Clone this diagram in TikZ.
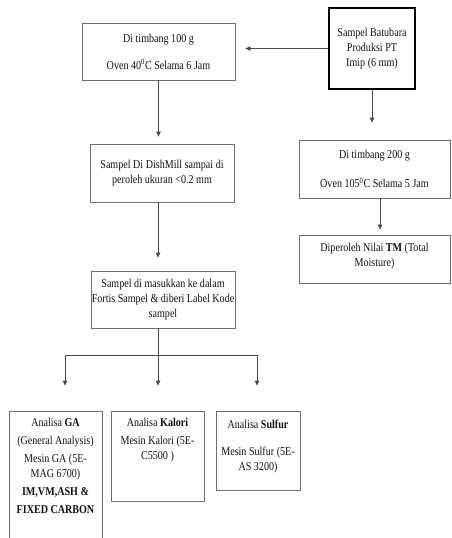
\documentclass[tikz,border=0pt]{standalone}
\usepackage{fontspec}
\setmainfont[FakeStretch=0.84]{Liberation Serif}
\usetikzlibrary{arrows.meta}
\definecolor{boxc}{HTML}{6E6E6E}
\definecolor{linec}{HTML}{4A4A4A}
\definecolor{txt}{HTML}{111111}
\begin{document}
\begin{tikzpicture}[x=1pt,y=-1pt,
  every node/.style={font=\fontsize{12}{15}\selectfont, text=txt},
  box/.style={draw=boxc, line width=0.8pt, rectangle, inner sep=0pt, align=center},
  arr/.style={draw=linec, line width=0.8pt, -{Triangle[width=4.5pt,length=5pt]}},
  conn/.style={draw=linec, line width=0.8pt}]
\useasboundingbox (0,0) rectangle (451,538);

\node[box, draw=black, line width=1.8pt, minimum width=86pt, minimum height=81pt] (src) at (372,48.5)
  {Sampel Batubara\\Produksi PT\\Imip (6 mm)};
\node[box, minimum width=153pt, minimum height=57pt] (A) at (158.5,51.5)
  {Di timbang 100 g\\[12pt]Oven 40\textsuperscript{0}C Selama 6 Jam};
\node[box, minimum width=144pt, minimum height=58pt] (B) at (162,173)
  {Sampel Di DishMill sampai di\\peroleh ukuran <0.2 mm};
\node[box, minimum width=144pt, minimum height=57pt] (C) at (163,299.5)
  {Sampel di masukkan ke dalam\\Fortis Sampel \& diberi Label Kode\\sampel};
\node[box, minimum width=151pt, minimum height=58pt] (R1) at (374.5,169)
  {Di timbang 200 g\\[14pt]Oven 105\textsuperscript{0}C Selama 5 Jam};
\node[box, minimum width=151pt, minimum height=48pt] (TM) at (374.5,259)
  {Diperoleh Nilai \textbf{TM} (Total\\Moisture)\\[-7pt]};

\node[box] (GA) at (55.5,478)
  {\parbox[c][134pt][t]{93pt}{\centering\vspace*{7pt}Analisa \textbf{GA}\\[3pt](General Analysis)\\[3pt]Mesin GA (5E-\\MAG 6700)\\[3pt]\textbf{IM,VM,ASH \&}\\[3pt]\textbf{FIXED CARBON}}};
\node[box] (Kal) at (157.5,456)
  {\parbox[c][90pt][t]{93pt}{\centering\vspace*{7pt}Analisa \textbf{Kalori}\\[3pt]Mesin Kalori (5E-\\C5500 )}};
\node[box] (Sul) at (258,450.5)
  {\parbox[c][79pt][t]{84pt}{\centering\vspace*{9pt}Analisa \textbf{Sulfur}\\[12pt]Mesin Sulfur (5E-\\AS 3200)}};

\draw[arr, shorten >=10pt] (src.west) -- (src.west -| A.east);
\draw[arr, shorten >=7pt] (A.south) -- (A.south |- B.north);
\draw[arr, shorten >=17pt] (src.south) -- (src.south |- R1.north);
\draw[arr, shorten >=5pt] ([xshift=5.5pt]R1.south) -- ([xshift=5.5pt]R1.south |- TM.north);
\draw[arr, shorten >=13pt] ([xshift=-4pt]B.south) -- ([xshift=-4pt]B.south |- C.north);
\coordinate (br) at (158,355);
\draw[conn] ([xshift=-5pt]C.south) -- (br);
\draw[arr, shorten >=25pt] (br) -| ([xshift=9.5pt]GA.north);
\draw[arr, shorten >=25pt] (br) -- (br |- Kal.north);
\draw[arr, shorten >=25pt] (br) -| ([xshift=-1pt]Sul.north);
\end{tikzpicture}
\end{document}
